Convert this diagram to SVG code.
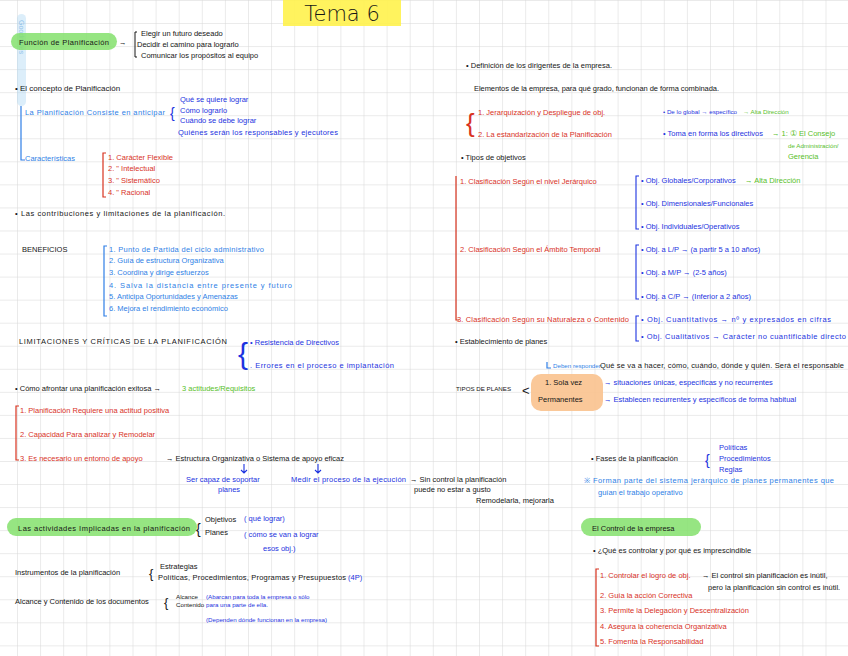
<svg xmlns="http://www.w3.org/2000/svg" width="848" height="656" viewBox="0 0 848 656">
<defs>
<pattern id="grid" x="17" y="0" width="23.1" height="23.05" patternUnits="userSpaceOnUse">
<path d="M0 0V23.05M0 0H23.1" fill="none" stroke="#d6d6d6" stroke-width="1"/>
</pattern>
<style>
text{font-family:"Liberation Sans",Arial,sans-serif;font-size:7.5px}
.k{fill:#161616}.r{fill:#d8321f}.b{fill:#1d33e0}.lb{fill:#2f7fe6}.g{fill:#58c02a}
.sk{stroke:#161616;fill:none;stroke-width:1}.sr{stroke:#d8321f;fill:none;stroke-width:1.2}
.sb{stroke:#1d33e0;fill:none;stroke-width:1.1}.slb{stroke:#2f7fe6;fill:none;stroke-width:1.2}
.hg{fill:#84e06c;opacity:.85}
.big{font-family:"DejaVu Sans",sans-serif;font-size:21px;font-weight:300}
.sm{font-size:6.2px}
</style>
</defs>
<rect width="848" height="656" fill="#fff"/>
<rect width="848" height="656" fill="url(#grid)"/>

<g id="title">
<rect x="283" y="0" width="118" height="26" fill="#fff24d" opacity=".9"/>
<text class="k big" x="342" y="21" text-anchor="middle">Tema 6</text>
</g>

<g id="goodnotes">
<rect x="17" y="14" width="9" height="92" rx="4.5" fill="#a8d4f2" opacity=".4"/>
<text transform="translate(19 20) rotate(90)" style="font-size:7px;fill:#7ab5e6;opacity:.75">Goodnotes</text>
</g>

<g id="funcion">
<rect class="hg" x="11" y="33" width="106" height="17" rx="8.5"/>
<text class="k" x="19" y="45" textLength="90">Función de Planificación</text>
<text class="k" x="119" y="45">→</text>
<path class="sk" d="M135 32V57M135 32h2M135 57h2"/>
<text class="k" x="141" y="36">Elegir un futuro deseado</text>
<text class="k" x="137" y="47">Decidir el camino para lograrlo</text>
<text class="k" x="141" y="58">Comunicar los propósitos al equipo</text>
</g>

<g id="concepto">
<text class="k" x="15" y="91" style="font-size:8px">• El concepto de  Planificación</text>
<path class="slb" d="M21 106V160h4"/>
<text class="lb" x="25" y="115" textLength="140">La Planificación Consiste en anticipar</text>
<text class="b" x="170" y="118" style="font-size:14px">{</text>
<text class="b" x="180" y="102">Qué se quiere lograr</text>
<text class="b" x="180" y="113">Cómo lograrlo</text>
<text class="b" x="180" y="123">Cuándo se debe lograr</text>
<text class="b" x="178" y="135" textLength="160">Quiénes serán los responsables y ejecutores</text>
<text class="lb" x="25" y="161">Características</text>
<path class="sr" d="M106 153h-3V197h3"/>
<text class="r" x="108" y="160">1. Carácter  Flexible</text>
<text class="r" x="108" y="171">2.       "         Intelectual</text>
<text class="r" x="108" y="183">3.       "         Sistemático</text>
<text class="r" x="108" y="195">4.       "         Racional</text>
</g>

<g id="contribuciones">
<text class="k" x="15" y="216" textLength="210">• Las contribuciones y limitaciones de la planificación.</text>
<text class="k" x="22" y="252">BENEFICIOS</text>
<path class="slb" d="M107 246h-3V316h3"/>
<text class="lb" x="109" y="252" textLength="155">1. Punto de Partida del ciclo administrativo</text>
<text class="lb" x="109" y="263">2. Guía de estructura  Organizativa</text>
<text class="lb" x="109" y="275">3. Coordina y dirige esfuerzos</text>
<text class="lb" x="109" y="288" textLength="183">4. Salva la distancia entre presente y futuro</text>
<text class="lb" x="109" y="299">5. Anticipa  Oportunidades y Amenazas</text>
<text class="lb" x="109" y="311">6. Mejora  el rendimiento económico</text>
</g>

<g id="limitaciones">
<text class="k" x="19" y="344" textLength="208">LIMITACIONES Y CRÍTICAS DE LA PLANIFICACIÓN</text>
<text class="b" x="238" y="364" style="font-size:30px;font-weight:100">{</text>
<text class="b" x="250" y="345">• Resistencia  de  Directivos</text>
<text class="b" x="250" y="368" textLength="144">. Errores en el proceso e implantación</text>
</g>

<g id="afrontar">
<text class="k" x="15" y="391">• Cómo afrontar una planificación exitosa  →</text>
<text class="g" x="182" y="391">3 actitudes/Requisitos</text>
<path class="sr" d="M19 406h-3V460h3"/>
<text class="r" x="20" y="413">1. Planificación Requiere una actitud positiva</text>
<text class="r" x="20" y="437">2. Capacidad  Para  analizar y Remodelar</text>
<text class="r" x="20" y="461">3. Es necesario un entorno  de  apoyo</text>
<text class="k" x="166" y="461">→ Estructura Organizativa o Sistema de apoyo eficaz</text>
<path class="sb" d="M244 464v9M241 470l3 3 3-3M318 464v9M315 470l3 3 3-3"/>
<text class="b" x="186" y="482">Ser capaz de soportar</text>
<text class="b" x="218" y="492">planes</text>
<text class="b" x="291" y="482" textLength="115">Medir el proceso de la ejecución</text>
<text class="k" x="410" y="482">→ Sin control la planificación</text>
<text class="k" x="414" y="492">puede no estar a gusto</text>
<text class="k" x="476" y="503">Remodelarla, mejorarla</text>
</g>

<g id="actividades">
<rect class="hg" x="7" y="518" width="190" height="18" rx="9"/>
<text class="k" x="18" y="531" textLength="172">Las actividades Implicadas en la planificación</text>
<text class="k" x="196" y="534" style="font-size:14px">{</text>
<text class="k" x="205" y="522">Objetivos</text>
<text class="k" x="205" y="535">Planes</text>
<text class="b" x="244" y="521">( qué lograr)</text>
<text class="b" x="244" y="537">( cómo se van a lograr</text>
<text class="b" x="263" y="551">esos obj.)</text>
</g>

<g id="instrumentos">
<text class="k" x="15" y="575">Instrumentos de la planificación</text>
<text class="k" x="149" y="578" style="font-size:13px">{</text>
<text class="k" x="160" y="569">Estrategias</text>
<text class="k" x="158" y="580" textLength="188">Políticas, Procedimientos, Programas y Presupuestos</text>
<text class="b" x="348" y="580">(4P)</text>
</g>

<g id="alcance">
<text class="k" x="15" y="604">Alcance y Contenido de los documentos</text>
<text class="k" x="164" y="607" style="font-size:13px">{</text>
<text class="k sm" x="176" y="599">Alcance</text>
<text class="k sm" x="176" y="607">Contenido</text>
<text class="b sm" x="206" y="599">(Abarcan para toda la empresa  o  sólo</text>
<text class="b sm" x="206" y="607">para una parte de ella.</text>
<text class="b sm" x="206" y="622">(Dependen dónde funcionan en la empresa)</text>
</g>

<g id="dirigentes">
<text class="k" x="466" y="68">• Definición de los dirigentes de la empresa.</text>
<text class="k" x="474" y="91" textLength="245">Elementos de la empresa, para qué grado, funcionan de forma combinada.</text>
<text class="r" x="466" y="132" style="font-size:26px;font-weight:100">{</text>
<text class="r" x="478" y="115">1. Jerarquización  y Despliegue de obj.</text>
<text class="r" x="478" y="137">2. La estandarización  de la Planificación</text>
<text class="b sm" x="663" y="114">• De lo global → específico</text>
<text class="g sm" x="743" y="114">→ Alta Dirección</text>
<text class="b" x="663" y="136">• Toma en forma los directivos</text>
<text class="g" x="772" y="136">→ 1: ① El Consejo</text>
<text class="g sm" x="788" y="148">de Administración/</text>
<text class="g" x="788" y="159">Gerencia</text>
</g>

<g id="tipos-objetivos">
<text class="k" x="461" y="160">• Tipos de objetivos</text>
<path class="sr" d="M456 176V320h3"/>
<text class="r" x="460" y="184">1. Clasificación Según el nivel  Jerárquico</text>
<text class="r" x="460" y="252">2. Clasificación Según el Ámbito Temporal</text>
<text class="r" x="457" y="322" textLength="172">3. Clasificación Según su Naturaleza  o Contenido</text>
<path class="sb" d="M639 176h-3V229h3"/>
<text class="b" x="641" y="183">• Obj. Globales/Corporativos</text>
<text class="g" x="745" y="183">→ Alta Dirección</text>
<text class="b" x="641" y="206">• Obj. Dimensionales/Funcionales</text>
<text class="b" x="641" y="229">• Obj. Individuales/Operativos</text>
<path class="sb" d="M639 245h-3V299h3"/>
<text class="b" x="641" y="252">• Obj. a L/P  → (a partir 5 a 10 años)</text>
<text class="b" x="641" y="275">• Obj. a M/P  → (2-5 años)</text>
<text class="b" x="641" y="299">• Obj. a C/P  → (Inferior a 2 años)</text>
<path class="sb" d="M639 316h-3V341h3"/>
<text class="b" x="641" y="322" textLength="190">• Obj. Cuantitativos → nº y expresados en cifras</text>
<text class="b" x="641" y="339" textLength="205">• Obj. Cualitativos → Carácter no cuantificable directo</text>
</g>

<g id="planes">
<text class="k" x="455" y="344">• Establecimiento de planes</text>
<path class="slb" d="M547 362v6h4"/>
<text class="lb sm" x="553" y="368">Deben responder:</text>
<text class="k" x="600" y="368" textLength="244">Qué se va a hacer, cómo, cuándo, dónde y quién. Será el responsable</text>
<text class="k sm" x="456" y="391">TIPOS DE PLANES</text>
<rect x="531" y="374" width="72" height="37" rx="10" fill="#f9c28e" opacity=".9"/>
<text class="k" x="522" y="395" style="font-size:13px">&lt;</text>
<text class="k" x="545" y="385">1. Sola vez</text>
<text class="k" x="538" y="402">Permanentes</text>
<text class="b" x="604" y="385">→ situaciones únicas, específicas y no recurrentes</text>
<text class="b" x="604" y="402">→ Establecen recurrentes y específicos de forma habitual</text>
</g>

<g id="fases">
<text class="k" x="591" y="461">• Fases de la planificación</text>
<text class="b" x="705" y="465" style="font-size:14px">{</text>
<text class="b" x="719" y="450">Políticas</text>
<text class="b" x="719" y="461">Procedimientos</text>
<text class="b" x="719" y="472">Reglas</text>
<text class="lb" x="584" y="483" textLength="250">※ Forman parte del sistema jerárquico de planes permanentes que</text>
<text class="lb" x="598" y="495">guían el trabajo operativo</text>
</g>

<g id="control">
<rect class="hg" x="581" y="518" width="120" height="18" rx="9"/>
<text class="k" x="592" y="531">El Control de la empresa</text>
<text class="k" x="593" y="553">• ¿Qué es controlar  y por qué es imprescindible</text>
<path class="sr" d="M599 569h-3V646h3"/>
<text class="r" x="600" y="578">1. Controlar el logro de obj.</text>
<text class="k" x="702" y="578">→ El control sin planificación es inútil,</text>
<text class="k" x="708" y="590">pero la planificación sin control es inútil.</text>
<text class="r" x="600" y="598">2. Guía la acción Correctiva</text>
<text class="r" x="600" y="613">3. Permite la Delegación y Descentralización</text>
<text class="r" x="600" y="629">4. Asegura la coherencia Organizativa</text>
<text class="r" x="600" y="644">5. Fomenta la Responsabilidad</text>
</g>
</svg>
